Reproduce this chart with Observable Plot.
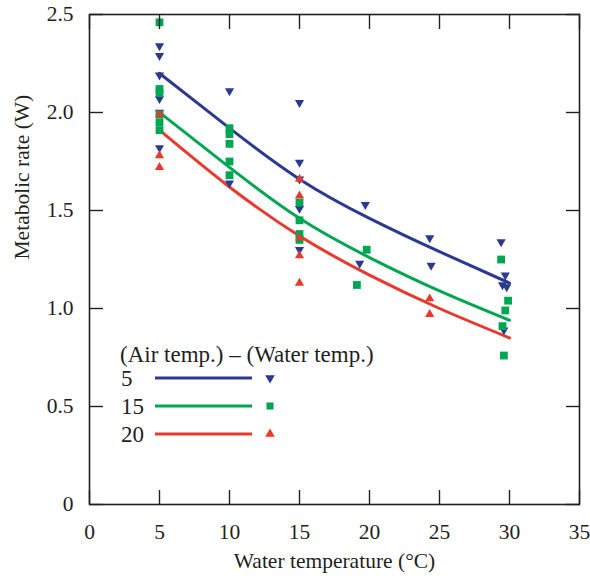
<!DOCTYPE html>
<html><head><meta charset="utf-8">
<script src="https://cdn.jsdelivr.net/npm/d3@7"></script>
<script src="https://cdn.jsdelivr.net/npm/@observablehq/plot@0.6"></script>
<style>
html,body{margin:0;background:#fff;font-family:"Liberation Serif",serif}
#chart svg{display:block}
#chart text{font-family:"Liberation Serif",serif}
</style>
</head><body><div id="chart"></div>
<script>
// Series: (Air temp.) – (Water temp.)
const seriesNames = ["5", "15", "20"];
const seriesColors = ["#2b3990", "#00a651", "#e8392c"];

// Observed points, difference = 5 (blue, down triangles)
const blueX = [5, 5, 5, 5, 5, 5, 10, 10, 15, 15, 15, 15, 15, 19.3, 19.7, 24.3, 24.4, 29.4, 29.7, 29.5, 29.8, 29.6];
const blueY = [2.34, 2.29, 2.19, 2.07, 2.00, 1.82, 2.11, 1.64, 2.05, 1.745, 1.66, 1.51, 1.30, 1.23, 1.53, 1.36, 1.22, 1.34, 1.17, 1.12, 1.11, 0.89];

// difference = 15 (green squares)
const greenX = [5, 5, 5, 5, 5, 5, 10, 10, 10, 10, 10, 15, 15, 15, 15, 19.1, 19.8, 29.4, 29.9, 29.7, 29.5, 29.6];
const greenY = [2.46, 2.12, 2.10, 1.99, 1.95, 1.91, 1.92, 1.89, 1.84, 1.75, 1.68, 1.54, 1.45, 1.38, 1.35, 1.12, 1.30, 1.25, 1.04, 0.99, 0.91, 0.76];

// difference = 20 (red up triangles)
const redX = [5, 5, 5, 15, 15, 15, 15, 15, 24.3, 24.3];
const redY = [1.99, 1.78, 1.72, 1.66, 1.575, 1.36, 1.27, 1.13, 1.05, 0.97];

// Fitted curves
const curveX = [5, 10, 15, 20, 25, 30];
const fit5 = [2.20, 1.92, 1.66, 1.46, 1.29, 1.13];
const fit15 = [2.00, 1.72, 1.46, 1.26, 1.09, 0.94];
const fit20 = [1.91, 1.62, 1.37, 1.17, 1.00, 0.85];

const xTicks = [0, 5, 10, 15, 20, 25, 30, 35];
const yTicks = [0, 0.5, 1.0, 1.5, 2.0, 2.5];
const yTickLabels = ["0", "0.5", "1.0", "1.5", "2.0", "2.5"];

const xLabel = "Water temperature (°C)";
const yLabel = "Metabolic rate (W)";
const legendTitle = "(Air temp.) – (Water temp.)";

const toPts = (xs, ys) => xs.map((x, i) => ({x, y: ys[i]}));
const blue = toPts(blueX, blueY), green = toPts(greenX, greenY), red = toPts(redX, redY);
const fits = [fit5, fit15, fit20].map(f => toPts(curveX, f));

const FONT = "Liberation Serif";
const INK = "#231f20";

const plot = Plot.plot({
  width: 590, height: 581,
  marginLeft: 89, marginRight: 11, marginTop: 14, marginBottom: 77,
  style: {fontFamily: FONT, fontSize: "21.5px", color: INK, background: "#fff"},
  x: {domain: [0, 35]},
  y: {domain: [0, 2.5]},
  marks: [
    Plot.line(fits[0], {x: "x", y: "y", stroke: seriesColors[0], strokeWidth: 3, curve: "natural"}),
    Plot.line(fits[1], {x: "x", y: "y", stroke: seriesColors[1], strokeWidth: 3, curve: "natural"}),
    Plot.line(fits[2], {x: "x", y: "y", stroke: seriesColors[2], strokeWidth: 3, curve: "natural"}),
    Plot.dot(blue, {x: "x", y: "y", symbol: "triangle", rotate: 180, r: 3.4, fill: seriesColors[0], stroke: "none"}),
    Plot.dot(green, {x: "x", y: "y", symbol: "square", r: 4.4, fill: seriesColors[1], stroke: "none"}),
    Plot.dot(red, {x: "x", y: "y", symbol: "triangle", r: 3.4, fill: seriesColors[2], stroke: "none"}),
    // inward ticks on all four sides
    Plot.axisX(xTicks, {anchor: "bottom", tickSize: -14, fill: "none", strokeWidth: 1.4, stroke: INK, label: null}),
    Plot.axisX(xTicks, {anchor: "top", tickSize: -14, fill: "none", strokeWidth: 1.4, stroke: INK, label: null}),
    Plot.axisY(yTicks, {anchor: "left", tickSize: -14, fill: "none", strokeWidth: 1.4, stroke: INK, label: null}),
    Plot.axisY(yTicks, {anchor: "right", tickSize: -14, fill: "none", strokeWidth: 1.4, stroke: INK, label: null}),
    // tick labels
    Plot.axisX(xTicks, {anchor: "bottom", tickSize: 0, tickPadding: 19, fontSize: 21.5, fontFamily: FONT, label: null, fill: INK}),
    Plot.axisY(yTicks, {anchor: "left", tickSize: 0, tickPadding: 16, fontSize: 21.5, fontFamily: FONT, label: null, fill: INK,
      tickFormat: d => yTickLabels[yTicks.indexOf(d)]}),
    Plot.frame({stroke: INK, strokeWidth: 1.6}),
    Plot.text([xLabel], {frameAnchor: "bottom", dy: 63, fontSize: 21.5, fontFamily: FONT, fill: INK}),
    Plot.text([yLabel], {frameAnchor: "left", dx: -67, rotate: -90, fontSize: 21.5, fontFamily: FONT, fill: INK})
  ]
});

document.getElementById("chart").appendChild(plot);

// Legend inside the plot area
const svg = d3.select(plot);
const lg = svg.append("g").attr("font-size", 23)
  .attr("fill", INK).attr("text-anchor", "start");
lg.append("text").attr("x", 120).attr("y", 354).attr("dy", "0.35em").text(legendTitle);
const rowsY = [378, 406, 434];
const symbols = [
  {type: d3.symbolTriangle, rot: 180, size: 40},
  {type: d3.symbolSquare, rot: 0, size: 50},
  {type: d3.symbolTriangle, rot: 0, size: 40}
];
seriesNames.forEach((name, i) => {
  const y = rowsY[i];
  lg.append("text").attr("x", 121).attr("y", y).attr("dy", "0.35em").text(name);
  lg.append("line").attr("x1", 155).attr("x2", 252).attr("y1", y).attr("y2", y)
    .attr("stroke", seriesColors[i]).attr("stroke-width", 3);
  lg.append("path").attr("d", d3.symbol(symbols[i].type, symbols[i].size)())
    .attr("transform", `translate(270,${y}) rotate(${symbols[i].rot})`)
    .attr("fill", seriesColors[i]);
});

// put the serif family on every text element directly
svg.selectAll("text").attr("font-family", FONT).style("font-family", "'Liberation Serif', serif");
</script>
</body></html>
